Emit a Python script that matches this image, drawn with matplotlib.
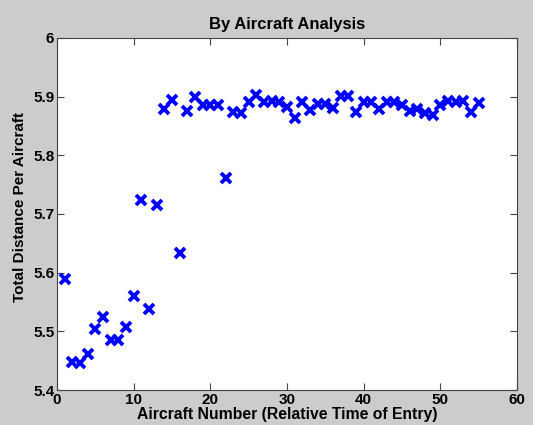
import matplotlib
matplotlib.use("Agg")
import matplotlib.pyplot as plt

plt.rcParams['font.family'] = ['Liberation Sans', 'DejaVu Sans']
plt.rcParams['font.weight'] = 'bold'

aircraft = list(range(1, 56))
distance = [
    5.590, 5.448, 5.446, 5.462, 5.504, 5.525, 5.486, 5.485, 5.508, 5.561,
    5.724, 5.538, 5.716, 5.879, 5.894, 5.634, 5.876, 5.900, 5.886, 5.886,
    5.886, 5.761, 5.873, 5.872, 5.890, 5.903, 5.891, 5.893, 5.891, 5.883,
    5.863, 5.890, 5.877, 5.888, 5.888, 5.880, 5.901, 5.901, 5.874, 5.891,
    5.890, 5.879, 5.891, 5.890, 5.886, 5.876, 5.878, 5.872, 5.869, 5.886,
    5.893, 5.891, 5.893, 5.873, 5.889,
]

fig = plt.figure(figsize=(5.33, 4.25), dpi=100, facecolor='#cccccc')
ax = fig.add_axes([0.107, 0.082, 0.863, 0.829])

ax.plot(aircraft, distance, linestyle='none', marker='x', color='#0000ff',
        markersize=6.5, markeredgewidth=2.8)

ax.set_xlim(0, 60)
ax.set_ylim(5.4, 6.0)
ax.set_xticks([0, 10, 20, 30, 40, 50, 60])
ax.set_yticks([5.4, 5.5, 5.6, 5.7, 5.8, 5.9, 6.0])
ax.set_yticklabels(['5.4', '5.5', '5.6', '5.7', '5.8', '5.9', '6'])
ax.tick_params(direction='in', top=True, right=True, labelsize=11, length=5, pad=2,
               color='#444444')
for spine in ax.spines.values():
    spine.set_color('#444444')
for lab in ax.get_xticklabels() + ax.get_yticklabels():
    lab.set_fontweight('bold')

ax.set_title('By Aircraft Analysis', fontsize=12, fontweight='bold', pad=6)
ax.set_xlabel('Aircraft Number (Relative Time of Entry)', fontsize=11.3, fontweight='bold', labelpad=0)
ax.set_ylabel('Total Distance Per Aircraft', fontsize=11, fontweight='bold')
ax.yaxis.set_label_coords(-0.065, 0.52)

fig.savefig('out.png', dpi=100, facecolor=fig.get_facecolor())
